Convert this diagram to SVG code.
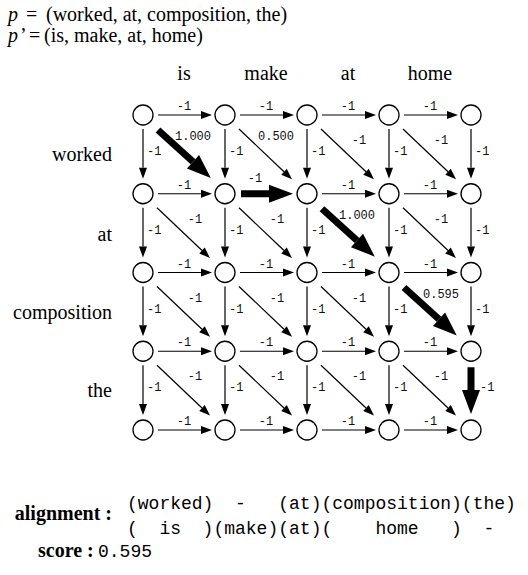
<svg xmlns="http://www.w3.org/2000/svg" width="528" height="575" viewBox="0 0 528 575">
<style>
.t{font-family:"Liberation Serif","Times New Roman",serif;font-size:20px;fill:#000}
.b{font-weight:bold}
.i{font-style:italic}
.m{font-family:"Liberation Mono","Courier New",monospace;font-size:18px;fill:#000;white-space:pre}
.l{font-family:"Liberation Mono","Courier New",monospace;font-size:12px;fill:#111}
.c{text-anchor:middle}
.r{text-anchor:end}
.e{stroke:#000;stroke-width:1.2;fill:none;marker-end:url(#ah)}
.E{stroke:#000;stroke-width:7;fill:none;marker-end:url(#AH)}
.n{fill:#fff;stroke:#000;stroke-width:1.3}
</style>
<defs>
<marker id="ah" markerUnits="userSpaceOnUse" markerWidth="12" markerHeight="8" refX="0" refY="4" orient="auto" overflow="visible"><path d="M0,0 L11,4 L0,8 z" fill="#000"/></marker>
<marker id="AH" markerUnits="userSpaceOnUse" markerWidth="24" markerHeight="18" refX="0" refY="9" orient="auto" overflow="visible"><path d="M0,0 L24,9 L0,18 z" fill="#000"/></marker>
</defs>
<rect width="528" height="575" fill="#fff"/>
<g id="header">
<text class="t" y="21"><tspan class="t i" x="8">p</tspan><tspan class="t" x="26">=</tspan><tspan class="t" x="46">(worked, at, composition, the)</tspan></text>
<text class="t" y="42"><tspan class="t i" x="8">p</tspan><tspan class="t" x="20">’</tspan><tspan class="t" x="29">=</tspan><tspan class="t" x="44">(is, make, at, home)</tspan></text>
</g>
<g id="col-labels">
<text class="t c" x="184" y="80">is</text>
<text class="t c" x="266" y="80">make</text>
<text class="t c" x="348" y="80">at</text>
<text class="t c" x="430" y="80">home</text>
</g>
<g id="row-labels">
<text class="t r" x="112" y="161">worked</text>
<text class="t r" x="112" y="241">at</text>
<text class="t r" x="112" y="319">composition</text>
<text class="t r" x="112" y="397">the</text>
</g>
<g id="connectors">
<line class="e" x1="158" y1="115" x2="201" y2="115"/><line class="e" x1="240" y1="115" x2="283" y2="115"/><line class="e" x1="322" y1="115" x2="365" y2="115"/><line class="e" x1="404" y1="115" x2="447" y2="115"/>
<line class="e" x1="158" y1="193.75" x2="201" y2="193.75"/><line class="E" x1="241" y1="193.75" x2="269" y2="193.75"/><line class="e" x1="322" y1="193.75" x2="365" y2="193.75"/><line class="e" x1="404" y1="193.75" x2="447" y2="193.75"/>
<line class="e" x1="158" y1="272.5" x2="201" y2="272.5"/><line class="e" x1="240" y1="272.5" x2="283" y2="272.5"/><line class="e" x1="322" y1="272.5" x2="365" y2="272.5"/><line class="e" x1="404" y1="272.5" x2="447" y2="272.5"/>
<line class="e" x1="158" y1="351.25" x2="201" y2="351.25"/><line class="e" x1="240" y1="351.25" x2="283" y2="351.25"/><line class="e" x1="322" y1="351.25" x2="365" y2="351.25"/><line class="e" x1="404" y1="351.25" x2="447" y2="351.25"/>
<line class="e" x1="158" y1="430" x2="201" y2="430"/><line class="e" x1="240" y1="430" x2="283" y2="430"/><line class="e" x1="322" y1="430" x2="365" y2="430"/><line class="e" x1="404" y1="430" x2="447" y2="430"/>
<line class="e" x1="143" y1="129" x2="143" y2="167.75"/><line class="e" x1="143" y1="207.75" x2="143" y2="246.5"/><line class="e" x1="143" y1="286.5" x2="143" y2="325.25"/><line class="e" x1="143" y1="365.25" x2="143" y2="404"/>
<line class="e" x1="225" y1="129" x2="225" y2="167.75"/><line class="e" x1="225" y1="207.75" x2="225" y2="246.5"/><line class="e" x1="225" y1="286.5" x2="225" y2="325.25"/><line class="e" x1="225" y1="365.25" x2="225" y2="404"/>
<line class="e" x1="307" y1="129" x2="307" y2="167.75"/><line class="e" x1="307" y1="207.75" x2="307" y2="246.5"/><line class="e" x1="307" y1="286.5" x2="307" y2="325.25"/><line class="e" x1="307" y1="365.25" x2="307" y2="404"/>
<line class="e" x1="389" y1="129" x2="389" y2="167.75"/><line class="e" x1="389" y1="207.75" x2="389" y2="246.5"/><line class="e" x1="389" y1="286.5" x2="389" y2="325.25"/><line class="e" x1="389" y1="365.25" x2="389" y2="404"/>
<line class="e" x1="471" y1="129" x2="471" y2="167.75"/><line class="e" x1="471" y1="207.75" x2="471" y2="246.5"/><line class="e" x1="471" y1="286.5" x2="471" y2="325.25"/><line class="E" x1="471" y1="367.25" x2="471" y2="390"/>
<line class="E" x1="158" y1="130" x2="193" y2="161.75"/><line class="e" x1="239" y1="129" x2="284" y2="171.75"/><line class="e" x1="321" y1="129" x2="366" y2="171.75"/><line class="e" x1="403" y1="129" x2="448" y2="171.75"/>
<line class="e" x1="157" y1="207.75" x2="202" y2="250.5"/><line class="e" x1="239" y1="207.75" x2="284" y2="250.5"/><line class="E" x1="322" y1="208.75" x2="357" y2="240.5"/><line class="e" x1="403" y1="207.75" x2="448" y2="250.5"/>
<line class="e" x1="157" y1="286.5" x2="202" y2="329.25"/><line class="e" x1="239" y1="286.5" x2="284" y2="329.25"/><line class="e" x1="321" y1="286.5" x2="366" y2="329.25"/><line class="E" x1="404" y1="287.5" x2="439" y2="319.25"/>
<line class="e" x1="157" y1="365.25" x2="202" y2="408"/><line class="e" x1="239" y1="365.25" x2="284" y2="408"/><line class="e" x1="321" y1="365.25" x2="366" y2="408"/><line class="e" x1="403" y1="365.25" x2="448" y2="408"/>
</g>
<g id="edge-labels">
<text class="l c" x="184" y="110">-1</text><text class="l c" x="266" y="110">-1</text><text class="l c" x="348" y="110">-1</text><text class="l c" x="430" y="110">-1</text>
<text class="l c" x="184" y="188.75">-1</text><text class="l c" x="255" y="181.75">-1</text><text class="l c" x="348" y="188.75">-1</text><text class="l c" x="430" y="188.75">-1</text>
<text class="l c" x="184" y="267.5">-1</text><text class="l c" x="266" y="267.5">-1</text><text class="l c" x="348" y="267.5">-1</text><text class="l c" x="430" y="267.5">-1</text>
<text class="l c" x="184" y="346.25">-1</text><text class="l c" x="266" y="346.25">-1</text><text class="l c" x="348" y="346.25">-1</text><text class="l c" x="430" y="346.25">-1</text>
<text class="l c" x="184" y="425">-1</text><text class="l c" x="266" y="425">-1</text><text class="l c" x="348" y="425">-1</text><text class="l c" x="430" y="425">-1</text>
<text class="l c" x="193" y="140">1.000</text><text class="l c" x="276" y="140">0.500</text><text class="l c" x="359" y="144">-1</text><text class="l c" x="441" y="144">-1</text>
<text class="l c" x="195" y="222.75">-1</text><text class="l c" x="277" y="222.75">-1</text><text class="l c" x="357" y="218.75">1.000</text><text class="l c" x="441" y="222.75">-1</text>
<text class="l c" x="195" y="301.5">-1</text><text class="l c" x="277" y="301.5">-1</text><text class="l c" x="359" y="301.5">-1</text><text class="l c" x="441" y="297.5">0.595</text>
<text class="l c" x="195" y="380.25">-1</text><text class="l c" x="277" y="380.25">-1</text><text class="l c" x="359" y="380.25">-1</text><text class="l c" x="441" y="380.25">-1</text>
<text class="l" x="147" y="155">-1</text><text class="l" x="147" y="233.75">-1</text><text class="l" x="147" y="312.5">-1</text><text class="l" x="147" y="391.25">-1</text>
<text class="l" x="229" y="155">-1</text><text class="l" x="229" y="233.75">-1</text><text class="l" x="229" y="312.5">-1</text><text class="l" x="229" y="391.25">-1</text>
<text class="l" x="311" y="155">-1</text><text class="l" x="311" y="233.75">-1</text><text class="l" x="311" y="312.5">-1</text><text class="l" x="311" y="391.25">-1</text>
<text class="l" x="393" y="155">-1</text><text class="l" x="393" y="233.75">-1</text><text class="l" x="393" y="312.5">-1</text><text class="l" x="393" y="391.25">-1</text>
<text class="l" x="475" y="155">-1</text><text class="l" x="475" y="233.75">-1</text><text class="l" x="475" y="312.5">-1</text><text class="l" x="480" y="391.25">-1</text>
</g>
<g id="nodes">
<circle id="n00" class="n" cx="143" cy="115" r="10"/><circle id="n01" class="n" cx="225" cy="115" r="10"/><circle id="n02" class="n" cx="307" cy="115" r="10"/><circle id="n03" class="n" cx="389" cy="115" r="10"/><circle id="n04" class="n" cx="471" cy="115" r="10"/>
<circle id="n10" class="n" cx="143" cy="193.75" r="10"/><circle id="n11" class="n" cx="225" cy="193.75" r="10"/><circle id="n12" class="n" cx="307" cy="193.75" r="10"/><circle id="n13" class="n" cx="389" cy="193.75" r="10"/><circle id="n14" class="n" cx="471" cy="193.75" r="10"/>
<circle id="n20" class="n" cx="143" cy="272.5" r="10"/><circle id="n21" class="n" cx="225" cy="272.5" r="10"/><circle id="n22" class="n" cx="307" cy="272.5" r="10"/><circle id="n23" class="n" cx="389" cy="272.5" r="10"/><circle id="n24" class="n" cx="471" cy="272.5" r="10"/>
<circle id="n30" class="n" cx="143" cy="351.25" r="10"/><circle id="n31" class="n" cx="225" cy="351.25" r="10"/><circle id="n32" class="n" cx="307" cy="351.25" r="10"/><circle id="n33" class="n" cx="389" cy="351.25" r="10"/><circle id="n34" class="n" cx="471" cy="351.25" r="10"/>
<circle id="n40" class="n" cx="143" cy="430" r="10"/><circle id="n41" class="n" cx="225" cy="430" r="10"/><circle id="n42" class="n" cx="307" cy="430" r="10"/><circle id="n43" class="n" cx="389" cy="430" r="10"/><circle id="n44" class="n" cx="471" cy="430" r="10"/>
</g>
<g id="result">
<text class="t b r" x="112" y="520">alignment :</text>
<text class="m" x="127" y="509" xml:space="preserve">(worked)  -   (at)(composition)(the)</text>
<text class="m" x="127" y="534" xml:space="preserve">(  is  )(make)(at)(    home   )  -</text>
<text class="t b" x="38" y="557">score :</text>
<text class="m" x="98" y="557">0.595</text>
</g>
</svg>
